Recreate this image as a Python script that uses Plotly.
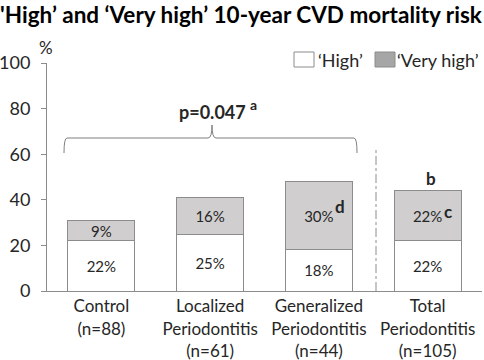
import plotly.graph_objects as go

categories = ["Control<br>(n=88)", "Localized<br>Periodontitis<br>(n=61)",
              "Generalized<br>Periodontitis<br>(n=44)", "Total<br>Periodontitis<br>(n=105)"]
high = [22, 25, 18, 22]
very_high = [9, 16, 30, 22]
y_ticks = [0, 20, 40, 60, 80, 100]

FONT = "Lato"
TXT = "#262626"
AX = "#8c8c8c"
GRAY = "#d0cecf"

fig = go.Figure()
fig.add_bar(x=categories, y=high, name="'High'", marker=dict(color="white", line=dict(color=AX, width=1)),
            texttemplate="%{y}%", textposition="inside", insidetextanchor="middle", constraintext="none",
            textfont=dict(size=15, color=TXT, family=FONT), width=0.615, showlegend=False)
fig.add_bar(x=categories, y=very_high, name="'Very high'", marker=dict(color=GRAY, line=dict(color=AX, width=1)),
            texttemplate="%{y}%", textposition="inside", insidetextanchor="middle", constraintext="none",
            textfont=dict(size=15, color=TXT, family=FONT), width=0.615, showlegend=False)

def px_x(px):
    return (px - 47) / 435.0

def px_y(py):
    return (291 - py) / 228.0

shapes = []
# brace
x0, x1, xc = px_x(64), px_x(357), px_x(212)
yb, yh, yt = px_y(153), px_y(138), px_y(125)
dx = 3 / 435.0
dxc = 4 / 435.0
path = (f"M {x0},{yb} Q {x0},{yh} {x0+dx},{yh} L {xc-dxc},{yh} Q {xc},{yh} {xc},{yt} "
        f"Q {xc},{yh} {xc+dxc},{yh} L {x1-dx},{yh} Q {x1},{yh} {x1},{yb}")
shapes.append(dict(type="path", xref="paper", yref="paper", path=path,
                   line=dict(color="#7f7f7f", width=1)))
# separator
shapes.append(dict(type="line", xref="paper", yref="paper", x0=px_x(376), x1=px_x(376),
                   y0=0, y1=px_y(150), line=dict(color="#8c8c8c", width=1, dash="dashdot")))
# legend boxes
shapes.append(dict(type="rect", xref="paper", yref="paper", x0=px_x(294), x1=px_x(314),
                   y0=px_y(67), y1=px_y(52), fillcolor="white", line=dict(color=AX, width=1)))
shapes.append(dict(type="rect", xref="paper", yref="paper", x0=px_x(375), x1=px_x(395),
                   y0=px_y(67), y1=px_y(52), fillcolor="#a6a6a6", line=dict(color=AX, width=1)))

ann = []
ann.append(dict(xref="paper", yref="paper", x=px_x(316), y=px_y(60), text="‘High’",
                showarrow=False, xanchor="left", yanchor="middle", font=dict(size=18, color=TXT, family=FONT)))
ann.append(dict(xref="paper", yref="paper", x=px_x(395), y=px_y(60), text="‘Very high’",
                showarrow=False, xanchor="left", yanchor="middle", font=dict(size=18, color=TXT, family=FONT)))
ann.append(dict(xref="paper", yref="paper", x=px_x(212), y=px_y(112), text="<b>p=0.047</b>",
                showarrow=False, xanchor="center", yanchor="middle", font=dict(size=18, color=TXT, family=FONT)))
ann.append(dict(xref="paper", yref="paper", x=px_x(248), y=px_y(104), text="<b>a</b>",
                showarrow=False, xanchor="left", yanchor="middle", font=dict(size=14, color=TXT, family=FONT)))
ann.append(dict(xref="paper", yref="paper", x=px_x(431), y=px_y(178), text="<b>b</b>",
                showarrow=False, xanchor="center", yanchor="middle", font=dict(size=17, color=TXT, family=FONT)))
ann.append(dict(xref="paper", yref="paper", x=px_x(333), y=px_y(206), text="<b>d</b>",
                showarrow=False, xanchor="left", yanchor="middle", font=dict(size=17, color=TXT, family=FONT)))
ann.append(dict(xref="paper", yref="paper", x=px_x(442), y=px_y(212), text="<b>c</b>",
                showarrow=False, xanchor="left", yanchor="middle", font=dict(size=17, color=TXT, family=FONT)))
ann.append(dict(xref="paper", yref="paper", x=px_x(46), y=px_y(48), text="%",
                showarrow=False, xanchor="center", yanchor="middle", font=dict(size=17, color=TXT, family=FONT)))

fig.update_layout(
    barmode="stack",
    width=484, height=360,
    margin=dict(l=47, r=2, t=63, b=69, autoexpand=False),
    paper_bgcolor="white", plot_bgcolor="white",
    title=dict(text="<b>'High’ and ‘Very high’ 10-year CVD mortality risk</b>", x=0, xanchor="left",
               y=1 - 15 / 360, yanchor="middle", font=dict(size=22.5, color="black", family=FONT)),
    font=dict(family=FONT, color=TXT),
    shapes=shapes, annotations=ann,
    showlegend=False,
)
fig.update_xaxes(showline=True, linecolor=AX, linewidth=1, ticks="", tickfont=dict(size=17, color=TXT),
                 range=[-0.5, 3.5], automargin=False)
fig.update_yaxes(range=[0, 100], tickvals=y_ticks, showgrid=False, showline=True, linecolor=AX, linewidth=1,
                 ticks="outside", ticklen=5, tickcolor=AX, tickfont=dict(size=18, color=TXT), zeroline=False,
                 ticklabelstandoff=7, automargin=False)

fig.write_html("out.html", config={"displayModeBar": False},
               post_script="document.body.style.margin='0';")
